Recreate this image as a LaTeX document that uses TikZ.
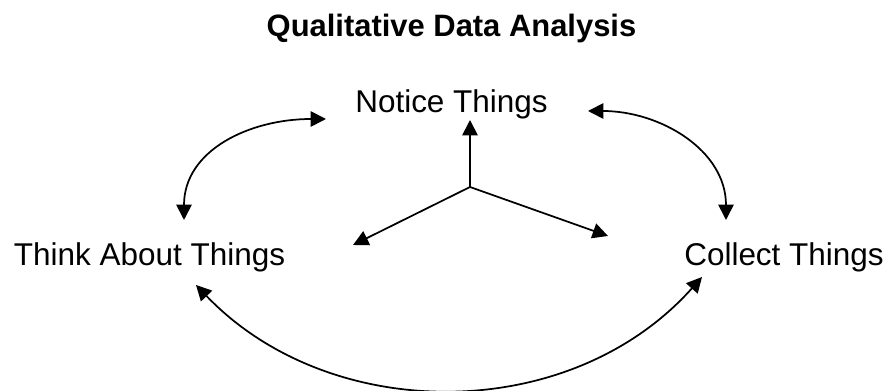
\documentclass[tikz,border=0pt]{standalone}
\usepackage{fontspec}
\setmainfont{Liberation Sans}
\usetikzlibrary{arrows.meta}
\begin{document}
\begin{tikzpicture}[x=0.75pt,y=-0.75pt,
  lbl/.style={anchor=base,inner sep=0pt,font=\fontsize{23.6}{28}\selectfont},
  ttl/.style={anchor=base,inner sep=0pt,font=\fontsize{23.2}{28}\selectfont\bfseries},
  conn/.style={line width=1.3pt,-{Triangle[length=11.5pt,width=11.5pt]}},
  biconn/.style={line width=1.3pt,{Triangle[length=11.5pt,width=11.5pt]}-{Triangle[length=11.5pt,width=11.5pt]}}]
\useasboundingbox (0,0) rectangle (890,391);
\node[ttl] (title) at (451.5,37) {Qualitative Data Analysis};
\node[lbl] (notice) at (451.5,113) {Notice Things};
\node[lbl] (think) at (149.5,266) {Think About Things};
\node[lbl] (collect) at (784,266) {Collect Things};
% centre star
\coordinate (c) at (470,187);
\coordinate (up) at (470,120);
\coordinate (lt) at (353,245);
\coordinate (rt) at (608,236);
\draw[conn] (c) -- (up);
\draw[conn] (c) -- (lt);
\draw[conn] (c) -- (rt);
% curved arrows
\coordinate (tlA) at (184,220);
\coordinate (tlB) at (326,119);
\coordinate (trA) at (588,111);
\coordinate (trB) at (726,220);
\coordinate (bA) at (196,285);
\coordinate (bB) at (702,277);
\draw[biconn] (tlA) .. controls (184,150) and (250,119) .. (tlB);
\draw[biconn] (trA) .. controls (660,111) and (726,150) .. (trB);
\draw[biconn] (bA) .. controls (330,425) and (570,425) .. (bB);
\end{tikzpicture}
\end{document}
